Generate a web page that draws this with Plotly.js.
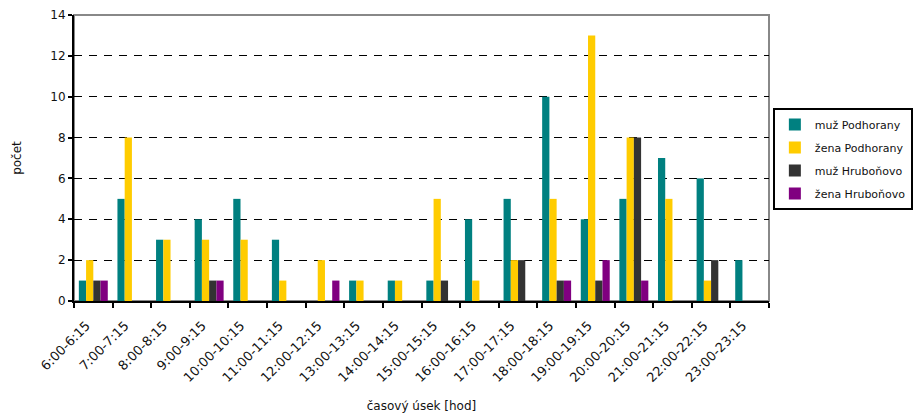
<!DOCTYPE html>
<html>
<head>
<meta charset="utf-8">
<script src="https://cdn.plot.ly/plotly-3.0.1.min.js"></script>
<style>html,body{margin:0;padding:0;background:#fff;}#chart{width:914px;height:413px;}</style>
</head>
<body>
<div id="chart"></div>
<script>
var categories = ["6:00-6:15","7:00-7:15","8:00-8:15","9:00-9:15","10:00-10:15","11:00-11:15","12:00-12:15","13:00-13:15","14:00-14:15","15:00-15:15","16:00-16:15","17:00-17:15","18:00-18:15","19:00-19:15","20:00-20:15","21:00-21:15","22:00-22:15","23:00-23:15"];
var muzPodhorany = [1,5,3,4,5,3,0,1,1,1,4,5,10,4,5,7,6,2];
var zenaPodhorany = [2,8,3,3,3,1,2,1,1,5,1,2,5,13,8,5,1,0];
var muzHrubonovo = [1,0,0,1,0,0,0,0,0,1,0,2,1,1,8,0,2,0];
var zenaHrubonovo = [1,0,0,1,0,0,1,0,0,0,0,0,1,2,1,0,0,0];
var seriesNames = ["muž Podhorany","žena Podhorany","muž Hruboňovo","žena Hruboňovo"];
var colors = ["#008080","#FFCC00","#333333","#800080"];
var seriesData = [muzPodhorany, zenaPodhorany, muzHrubonovo, zenaHrubonovo];

var traces = seriesData.map(function(d,i){
  return {type:"bar", x:categories, y:d, name:seriesNames[i], legendgroup:"g"+i,
    marker:{color:colors[i], line:{width:0}}};
});

var font = "DejaVu Sans, Liberation Sans, Arial, sans-serif";
var layout = {
  width:914, height:413,
  margin:{l:74, r:145, t:15, b:112, autoexpand:false},
  paper_bgcolor:"#fff", plot_bgcolor:"#fff",
  barmode:"group", bargap:0.25, bargroupgap:0,
  font:{family:font, size:12, color:"#111"},
  xaxis:{
    type:"category", tickangle:-45, ticks:"outside", tickson:"boundaries", ticklen:5, tickwidth:2, tickcolor:"#000",
    showline:true, linecolor:"#000", linewidth:2, showgrid:false, zeroline:false, automargin:false,
    ticklabelstandoff:10, ticklabelshift:-7,
    tickfont:{family:font, size:13, color:"#111"},
    title:{text:"časový úsek [hod]", font:{family:font, size:12, color:"#111"}, standoff:22}
  },
  yaxis:{
    range:[0,14], tickvals:[0,2,4,6,8,10,12,14], ticks:"outside", ticklen:4, tickwidth:2, tickcolor:"#000",
    showline:true, linecolor:"#000", linewidth:2, showgrid:true, gridcolor:"#000", gridwidth:1, griddash:"8px,7px",
    zeroline:false, automargin:false, tickfont:{family:font, size:12, color:"#111"},
    title:{text:"počet", font:{family:font, size:12, color:"#111"}, standoff:26}
  },
  shapes:[{type:"rect", xref:"paper", yref:"paper", x0:0, x1:1, y0:0, y1:1, line:{color:"#888", width:2}, layer:"below"}],
  legend:{x:1.207, y:0.675, xanchor:"right", yanchor:"top", bgcolor:"#fff", bordercolor:"#000", borderwidth:2,
    font:{family:font, size:11, color:"#111"}, tracegroupgap:4, itemwidth:30},
  showlegend:true
};
Plotly.newPlot("chart", traces, layout, {staticPlot:true});
</script>
</body>
</html>
